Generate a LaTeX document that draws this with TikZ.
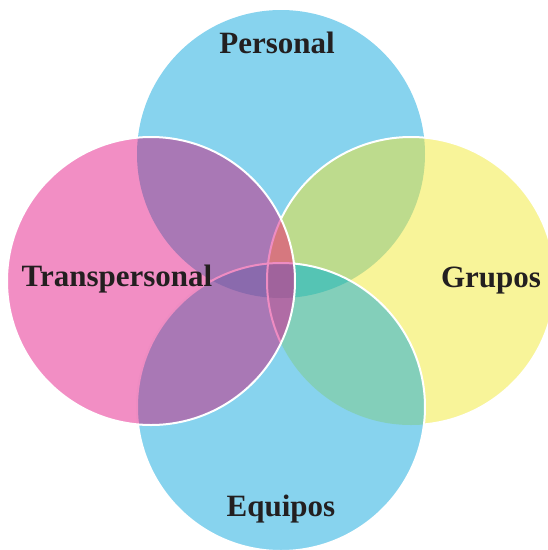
\documentclass[tikz,border=0pt]{standalone}
\usepackage{fontspec}
\setmainfont{Liberation Serif}
\definecolor{cblue}{HTML}{87D3EE}
\definecolor{cpink}{HTML}{F28EC4}
\definecolor{cyellow}{HTML}{F8F499}
\definecolor{cpurple}{HTML}{A978B5}
\definecolor{cgreen}{HTML}{BDDB8D}
\definecolor{cteal}{HTML}{83CFBA}
\definecolor{cteald}{HTML}{55C4B4}
\definecolor{csalmon}{HTML}{D6787F}
\definecolor{cdarkp}{HTML}{8A6AAD}
\definecolor{cpinkp}{HTML}{B06CA5}
\definecolor{cfour}{HTML}{A0639C}
\definecolor{cpinkline}{HTML}{EE8CC2}
\definecolor{ctext}{HTML}{231F20}
\tikzset{
  rim/.style={draw=white, line width=2pt},
  pinkrim/.style={draw=cpinkline, line width=2pt},
  lbl/.style={anchor=base, font=\fontsize{31}{36}\selectfont\bfseries, text=ctext, inner sep=0pt}
}
\begin{document}
\begin{tikzpicture}[x=1pt,y=-1pt]
\useasboundingbox (0,0) rectangle (548,550);
\def\rr{144pt}
\coordinate (T) at (281,154);
\coordinate (B) at (281,407);
\coordinate (L) at (151,281);
\coordinate (R) at (411,281);
% top circle
\fill[cblue] (T) circle (\rr);
% right circle
\fill[cyellow] (R) circle (\rr);
\begin{scope}
  \clip (R) circle (\rr);
  \fill[cgreen] (T) circle (\rr);
\end{scope}
\path[rim] (R) circle (\rr);
% bottom circle
\fill[cblue] (B) circle (\rr);
\begin{scope}
  \clip (B) circle (\rr);
  \fill[cteal] (R) circle (\rr);
  \clip (R) circle (\rr);
  \fill[cteald] (T) circle (\rr);
\end{scope}
\path[rim] (B) circle (\rr);
% left circle
\begin{scope}
  \clip (L) circle (\rr);
  \fill[cpink] (L) circle (\rr);
  \fill[cpurple] (T) circle (\rr);
  \fill[cpurple] (B) circle (\rr);
  \begin{scope}
    \clip (T) circle (\rr);
    \fill[cdarkp] (B) circle (\rr);
    \fill[csalmon] (R) circle (\rr);
  \end{scope}
  \begin{scope}
    \clip (B) circle (\rr);
    \fill[cpinkp] (R) circle (\rr);
  \end{scope}
  \begin{scope}
    \clip (T) circle (\rr);
    \clip (B) circle (\rr);
    \fill[cfour] (R) circle (\rr);
  \end{scope}
  \path[pinkrim] (R) circle (\rr);
  \path[pinkrim] (B) circle (\rr);
\end{scope}
\path[rim] (L) circle (\rr);
% labels
\node[lbl] (personal) at (277,53) {Personal};
\node[lbl] (transpersonal) at (117,286) {Transpersonal};
\node[lbl] (grupos) at (491,287) {Grupos};
\node[lbl] (equipos) at (281,516) {Equipos};
\end{tikzpicture}
\end{document}
